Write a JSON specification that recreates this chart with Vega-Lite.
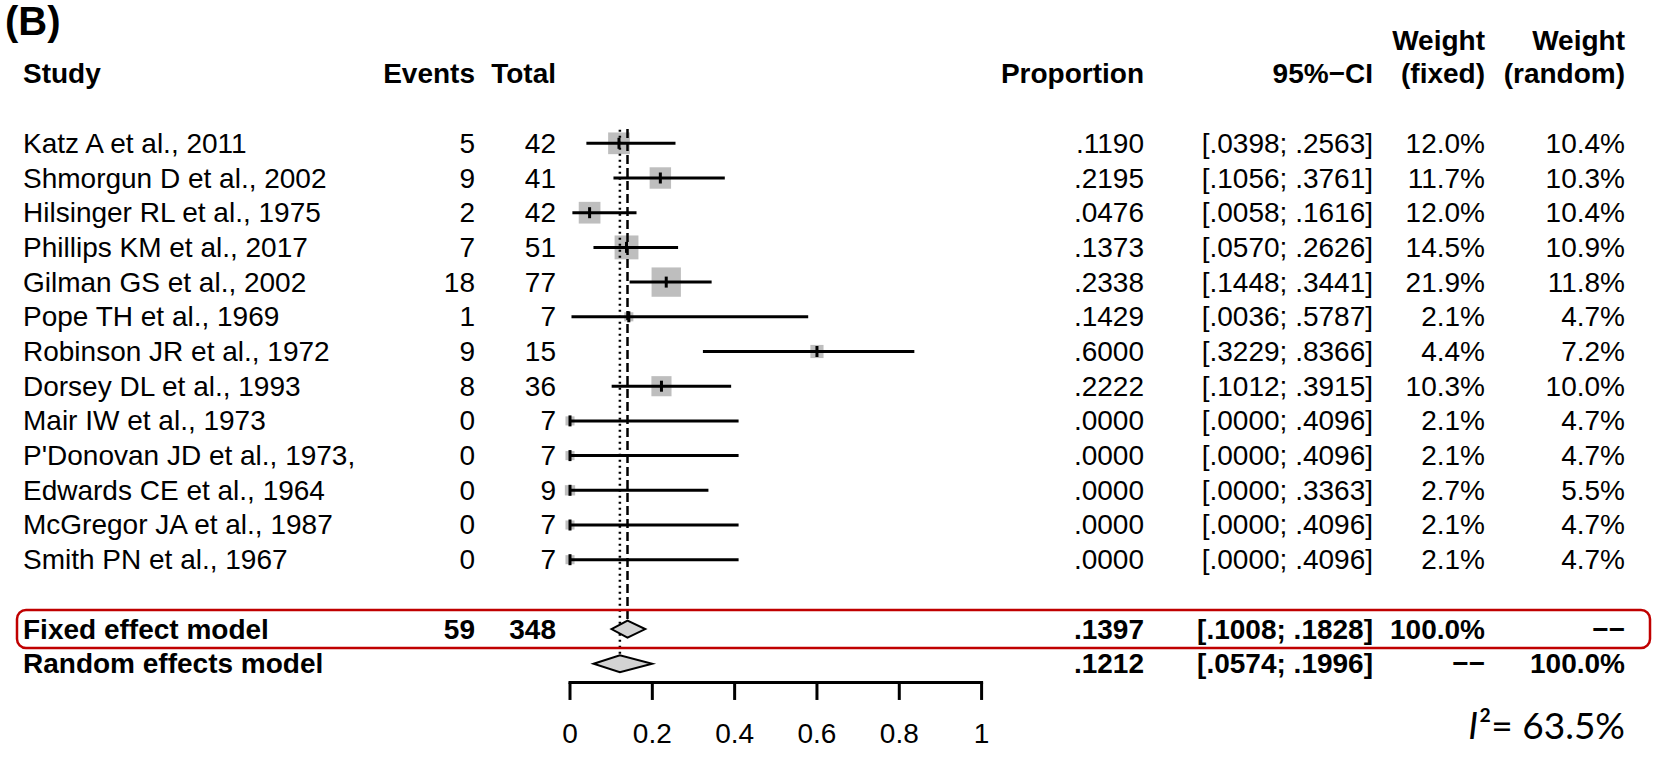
{
  "$schema": "https://vega.github.io/schema/vega-lite/v6.json",
  "width": 1664,
  "height": 767,
  "padding": 0,
  "autosize": {"type": "none"},
  "background": "white",
  "config": {
    "aria": false,
    "view": {"stroke": null},
    "text": {"font": "Liberation Sans", "fontSize": 28, "color": "black", "baseline": "middle", "dy": 1.5}
  },
  "datasets": {
    "rows": [
      {"study": "Katz A et al., 2011", "kind": "study", "row": 0, "events": 5, "total": 42, "prop": 0.119, "lo": 0.0398, "hi": 0.2563, "wf": 12.0, "wr": 10.4},
      {"study": "Shmorgun D et al., 2002", "kind": "study", "row": 1, "events": 9, "total": 41, "prop": 0.2195, "lo": 0.1056, "hi": 0.3761, "wf": 11.7, "wr": 10.3},
      {"study": "Hilsinger RL et al., 1975", "kind": "study", "row": 2, "events": 2, "total": 42, "prop": 0.0476, "lo": 0.0058, "hi": 0.1616, "wf": 12.0, "wr": 10.4},
      {"study": "Phillips KM et al., 2017", "kind": "study", "row": 3, "events": 7, "total": 51, "prop": 0.1373, "lo": 0.057, "hi": 0.2626, "wf": 14.5, "wr": 10.9},
      {"study": "Gilman GS et al., 2002", "kind": "study", "row": 4, "events": 18, "total": 77, "prop": 0.2338, "lo": 0.1448, "hi": 0.3441, "wf": 21.9, "wr": 11.8},
      {"study": "Pope TH et al., 1969", "kind": "study", "row": 5, "events": 1, "total": 7, "prop": 0.1429, "lo": 0.0036, "hi": 0.5787, "wf": 2.1, "wr": 4.7},
      {"study": "Robinson JR et al., 1972", "kind": "study", "row": 6, "events": 9, "total": 15, "prop": 0.6, "lo": 0.3229, "hi": 0.8366, "wf": 4.4, "wr": 7.2},
      {"study": "Dorsey DL et al., 1993", "kind": "study", "row": 7, "events": 8, "total": 36, "prop": 0.2222, "lo": 0.1012, "hi": 0.3915, "wf": 10.3, "wr": 10.0},
      {"study": "Mair IW et al., 1973", "kind": "study", "row": 8, "events": 0, "total": 7, "prop": 0, "lo": 0, "hi": 0.4096, "wf": 2.1, "wr": 4.7},
      {"study": "P'Donovan JD et al., 1973,", "kind": "study", "row": 9, "events": 0, "total": 7, "prop": 0, "lo": 0, "hi": 0.4096, "wf": 2.1, "wr": 4.7},
      {"study": "Edwards CE et al., 1964", "kind": "study", "row": 10, "events": 0, "total": 9, "prop": 0, "lo": 0, "hi": 0.3363, "wf": 2.7, "wr": 5.5},
      {"study": "McGregor JA et al., 1987", "kind": "study", "row": 11, "events": 0, "total": 7, "prop": 0, "lo": 0, "hi": 0.4096, "wf": 2.1, "wr": 4.7},
      {"study": "Smith PN et al., 1967", "kind": "study", "row": 12, "events": 0, "total": 7, "prop": 0, "lo": 0, "hi": 0.4096, "wf": 2.1, "wr": 4.7},
      {"study": "Fixed effect model", "kind": "model", "row": 14, "events": 59, "total": 348, "prop": 0.1397, "lo": 0.1008, "hi": 0.1828, "wf": 100.0, "wr": null},
      {"study": "Random effects model", "kind": "model", "row": 15, "events": null, "total": null, "prop": 0.1212, "lo": 0.0574, "hi": 0.1996, "wf": null, "wr": 100.0}
    ],
    "ticks": [{"tick": 0}, {"tick": 0.2}, {"tick": 0.4}, {"tick": 0.6}, {"tick": 0.8}, {"tick": 1}],
    "columns": [
      {"col": 1, "head": "Events", "head1": null},
      {"col": 2, "head": "Total", "head1": null},
      {"col": 3, "head": "Proportion", "head1": null},
      {"col": 4, "head": "95%−CI", "head1": null},
      {"col": 5, "head": "(fixed)", "head1": "Weight"},
      {"col": 6, "head": "(random)", "head1": "Weight"}
    ],
    "stats": [{"i2": 63.5}]
  },
  "resolve": {"scale": {"x": "independent"}},
  "layer": [
    {
      "layer": [
        {
          "data": {"name": "rows"},
          "transform": [{"filter": "datum.kind === 'study'"}],
          "mark": {"type": "square", "filled": true, "color": "#bebebe", "opacity": 1},
          "encoding": {
            "x": {"field": "prop", "type": "quantitative", "scale": {"domain": [-1.38484, 2.65792], "nice": false, "zero": false}, "axis": null},
            "y": {"field": "row", "type": "quantitative", "scale": {"domain": [-4.1297, 17.9741], "reverse": true, "nice": false, "zero": false}, "axis": null},
            "size": {"field": "wf", "type": "quantitative", "scale": {"type": "linear", "domain": [0, 100], "range": [0, 3930]}, "legend": null}
          }
        },
        {
          "data": {"name": "rows"},
          "transform": [{"filter": "datum.kind === 'study'"}],
          "mark": {"type": "rule", "strokeWidth": 3, "color": "black"},
          "encoding": {
            "x": {"field": "lo", "type": "quantitative", "scale": {"domain": [-1.38484, 2.65792], "nice": false, "zero": false}, "axis": null},
            "x2": {"field": "hi"},
            "y": {"field": "row", "type": "quantitative", "scale": {"domain": [-4.1297, 17.9741], "reverse": true, "nice": false, "zero": false}, "axis": null}
          }
        },
        {
          "data": {"name": "rows"},
          "transform": [{"filter": "datum.kind === 'study'"}],
          "mark": {"type": "tick", "orient": "vertical", "size": 11, "thickness": 3, "color": "black", "opacity": 1},
          "encoding": {
            "x": {"field": "prop", "type": "quantitative", "scale": {"domain": [-1.38484, 2.65792], "nice": false, "zero": false}, "axis": null},
            "y": {"field": "row", "type": "quantitative", "scale": {"domain": [-4.1297, 17.9741], "reverse": true, "nice": false, "zero": false}, "axis": null}
          }
        },
        {
          "data": {"name": "rows"},
          "transform": [{"filter": "datum.kind === 'model'"}],
          "mark": {"type": "rule", "strokeWidth": 2.5, "color": "black", "yOffset": -10},
          "encoding": {
            "x": {"field": "prop", "type": "quantitative", "scale": {"domain": [-1.38484, 2.65792], "nice": false, "zero": false}, "axis": null},
            "y": {"field": "row", "type": "quantitative", "scale": {"domain": [-4.1297, 17.9741], "reverse": true, "nice": false, "zero": false}, "axis": null},
            "y2": {"datum": -0.42},
            "strokeDash": {"field": "study", "type": "nominal", "scale": {"domain": ["Fixed effect model", "Random effects model"], "range": [[9, 4], [2, 4]]}, "legend": null}
          }
        },
        {
          "data": {"name": "rows"},
          "transform": [{"filter": "datum.kind === 'model'"}, {"fold": ["lo", "prop", "hi"], "as": ["key", "val"]}],
          "mark": {"type": "area", "orient": "vertical", "fill": "#d3d3d3", "stroke": "black", "strokeWidth": 2, "opacity": 1, "fillOpacity": 1,
                   "yOffset": {"expr": "datum.key === 'prop' ? -8.5 : 0"}, "y2Offset": {"expr": "datum.key === 'prop' ? 8.5 : 0"}},
          "encoding": {
            "x": {"field": "val", "type": "quantitative", "scale": {"domain": [-1.38484, 2.65792], "nice": false, "zero": false}, "axis": null},
            "y": {"field": "row", "type": "quantitative", "stack": null, "scale": {"domain": [-4.1297, 17.9741], "reverse": true, "nice": false, "zero": false}, "axis": null},
            "y2": {"field": "row"},
            "detail": {"field": "study", "type": "nominal"}
          }
        },
        {
          "data": {"name": "ticks"},
          "mark": {"type": "rule", "strokeWidth": 3, "color": "black", "strokeCap": "square"},
          "encoding": {
            "x": {"aggregate": "min", "field": "tick", "type": "quantitative", "scale": {"domain": [-1.38484, 2.65792], "nice": false, "zero": false}, "axis": null},
            "x2": {"aggregate": "max", "field": "tick"},
            "y": {"datum": 15.54, "type": "quantitative", "scale": {"domain": [-4.1297, 17.9741], "reverse": true, "nice": false, "zero": false}, "axis": null}
          }
        },
        {
          "data": {"name": "ticks"},
          "mark": {"type": "tick", "orient": "vertical", "size": 17.5, "thickness": 3, "color": "black", "opacity": 1},
          "encoding": {
            "x": {"field": "tick", "type": "quantitative", "scale": {"domain": [-1.38484, 2.65792], "nice": false, "zero": false}, "axis": null},
            "y": {"datum": 15.79, "type": "quantitative", "scale": {"domain": [-4.1297, 17.9741], "reverse": true, "nice": false, "zero": false}, "axis": null}
          }
        },
        {
          "data": {"name": "ticks"},
          "mark": {"type": "text", "fontSize": 28},
          "encoding": {
            "x": {"field": "tick", "type": "quantitative", "scale": {"domain": [-1.38484, 2.65792], "nice": false, "zero": false}, "axis": null},
            "y": {"datum": 17.02, "type": "quantitative", "scale": {"domain": [-4.1297, 17.9741], "reverse": true, "nice": false, "zero": false}, "axis": null},
            "text": {"field": "tick", "type": "quantitative", "format": "~g"}
          }
        }
      ]
    },
    {
      "layer": [
        {
          "data": {"name": "rows"},
          "transform": [{"filter": "datum.study === 'Fixed effect model'"}],
          "mark": {"type": "rect", "filled": false, "stroke": "#c00000", "strokeWidth": 2.5, "cornerRadius": 9, "yOffset": -19, "y2Offset": 19},
          "encoding": {
            "x": {"datum": -1, "type": "quantitative", "scale": {"type": "linear", "domain": [-2, -1, 0, 1, 2, 3, 4, 5, 6, 7], "range": [5, 17, 23, 475, 556, 1144, 1373, 1485, 1625, 1650], "nice": false, "zero": false}, "axis": null},
            "x2": {"datum": 7},
            "y": {"field": "row", "type": "quantitative", "scale": {"domain": [-4.1297, 17.9741], "reverse": true, "nice": false, "zero": false}, "axis": null},
            "y2": {"field": "row"}
          }
        },
        {
          "data": {"values": [{}]},
          "mark": {"type": "text", "text": "(B)", "align": "left", "fontWeight": "bold", "fontSize": 40},
          "encoding": {
            "x": {"datum": -2, "type": "quantitative", "scale": {"type": "linear", "domain": [-2, -1, 0, 1, 2, 3, 4, 5, 6, 7], "range": [5, 17, 23, 475, 556, 1144, 1373, 1485, 1625, 1650], "nice": false, "zero": false}, "axis": null},
            "y": {"datum": -3.5, "type": "quantitative", "scale": {"domain": [-4.1297, 17.9741], "reverse": true, "nice": false, "zero": false}, "axis": null}
          }
        },
        {
          "data": {"values": [{}]},
          "mark": {"type": "text", "text": "Study", "align": "left", "fontWeight": "bold"},
          "encoding": {
            "x": {"datum": 0, "type": "quantitative", "scale": {"type": "linear", "domain": [-2, -1, 0, 1, 2, 3, 4, 5, 6, 7], "range": [5, 17, 23, 475, 556, 1144, 1373, 1485, 1625, 1650], "nice": false, "zero": false}, "axis": null},
            "y": {"datum": -2, "type": "quantitative", "scale": {"domain": [-4.1297, 17.9741], "reverse": true, "nice": false, "zero": false}, "axis": null}
          }
        },
        {
          "data": {"name": "columns"},
          "mark": {"type": "text", "align": "right", "fontWeight": "bold"},
          "encoding": {
            "x": {"field": "col", "type": "quantitative", "scale": {"type": "linear", "domain": [-2, -1, 0, 1, 2, 3, 4, 5, 6, 7], "range": [5, 17, 23, 475, 556, 1144, 1373, 1485, 1625, 1650], "nice": false, "zero": false}, "axis": null},
            "y": {"datum": -2, "type": "quantitative", "scale": {"domain": [-4.1297, 17.9741], "reverse": true, "nice": false, "zero": false}, "axis": null},
            "text": {"field": "head", "type": "nominal"}
          }
        },
        {
          "data": {"name": "columns"},
          "transform": [{"filter": "datum.head1 != null"}],
          "mark": {"type": "text", "align": "right", "fontWeight": "bold"},
          "encoding": {
            "x": {"field": "col", "type": "quantitative", "scale": {"type": "linear", "domain": [-2, -1, 0, 1, 2, 3, 4, 5, 6, 7], "range": [5, 17, 23, 475, 556, 1144, 1373, 1485, 1625, 1650], "nice": false, "zero": false}, "axis": null},
            "y": {"datum": -2.97, "type": "quantitative", "scale": {"domain": [-4.1297, 17.9741], "reverse": true, "nice": false, "zero": false}, "axis": null},
            "text": {"field": "head1", "type": "nominal"}
          }
        },
        {
          "data": {"name": "rows"},
          "mark": {"type": "text", "align": "left", "fontWeight": {"expr": "datum.kind === 'model' ? 'bold' : 'normal'"}},
          "encoding": {
            "x": {"datum": 0, "type": "quantitative", "scale": {"type": "linear", "domain": [-2, -1, 0, 1, 2, 3, 4, 5, 6, 7], "range": [5, 17, 23, 475, 556, 1144, 1373, 1485, 1625, 1650], "nice": false, "zero": false}, "axis": null},
            "y": {"field": "row", "type": "quantitative", "scale": {"domain": [-4.1297, 17.9741], "reverse": true, "nice": false, "zero": false}, "axis": null},
            "text": {"field": "study", "type": "nominal"}
          }
        },
        {
          "data": {"name": "rows"},
          "mark": {"type": "text", "align": "right", "fontWeight": {"expr": "datum.kind === 'model' ? 'bold' : 'normal'"}, "text": {"expr": "datum.events == null ? '' : '' + datum.events"}},
          "encoding": {
            "x": {"datum": 1, "type": "quantitative", "scale": {"type": "linear", "domain": [-2, -1, 0, 1, 2, 3, 4, 5, 6, 7], "range": [5, 17, 23, 475, 556, 1144, 1373, 1485, 1625, 1650], "nice": false, "zero": false}, "axis": null},
            "y": {"field": "row", "type": "quantitative", "scale": {"domain": [-4.1297, 17.9741], "reverse": true, "nice": false, "zero": false}, "axis": null}
          }
        },
        {
          "data": {"name": "rows"},
          "mark": {"type": "text", "align": "right", "fontWeight": {"expr": "datum.kind === 'model' ? 'bold' : 'normal'"}, "text": {"expr": "datum.total == null ? '' : '' + datum.total"}},
          "encoding": {
            "x": {"datum": 2, "type": "quantitative", "scale": {"type": "linear", "domain": [-2, -1, 0, 1, 2, 3, 4, 5, 6, 7], "range": [5, 17, 23, 475, 556, 1144, 1373, 1485, 1625, 1650], "nice": false, "zero": false}, "axis": null},
            "y": {"field": "row", "type": "quantitative", "scale": {"domain": [-4.1297, 17.9741], "reverse": true, "nice": false, "zero": false}, "axis": null}
          }
        },
        {
          "data": {"name": "rows"},
          "mark": {"type": "text", "align": "right", "fontWeight": {"expr": "datum.kind === 'model' ? 'bold' : 'normal'"}, "text": {"expr": "replace(format(datum.prop, '.4f'), '0.', '.')"}},
          "encoding": {
            "x": {"datum": 3, "type": "quantitative", "scale": {"type": "linear", "domain": [-2, -1, 0, 1, 2, 3, 4, 5, 6, 7], "range": [5, 17, 23, 475, 556, 1144, 1373, 1485, 1625, 1650], "nice": false, "zero": false}, "axis": null},
            "y": {"field": "row", "type": "quantitative", "scale": {"domain": [-4.1297, 17.9741], "reverse": true, "nice": false, "zero": false}, "axis": null}
          }
        },
        {
          "data": {"name": "rows"},
          "mark": {"type": "text", "align": "right", "fontWeight": {"expr": "datum.kind === 'model' ? 'bold' : 'normal'"}, "text": {"expr": "'[' + replace(format(datum.lo, '.4f'), '0.', '.') + ';  ' + replace(format(datum.hi, '.4f'), '0.', '.') + ']'"}},
          "encoding": {
            "x": {"datum": 4, "type": "quantitative", "scale": {"type": "linear", "domain": [-2, -1, 0, 1, 2, 3, 4, 5, 6, 7], "range": [5, 17, 23, 475, 556, 1144, 1373, 1485, 1625, 1650], "nice": false, "zero": false}, "axis": null},
            "y": {"field": "row", "type": "quantitative", "scale": {"domain": [-4.1297, 17.9741], "reverse": true, "nice": false, "zero": false}, "axis": null}
          }
        },
        {
          "data": {"name": "rows"},
          "mark": {"type": "text", "align": "right", "fontWeight": {"expr": "datum.kind === 'model' ? 'bold' : 'normal'"}, "text": {"expr": "datum.wf == null ? '−−' : format(datum.wf, '.1f') + '%'"}},
          "encoding": {
            "x": {"datum": 5, "type": "quantitative", "scale": {"type": "linear", "domain": [-2, -1, 0, 1, 2, 3, 4, 5, 6, 7], "range": [5, 17, 23, 475, 556, 1144, 1373, 1485, 1625, 1650], "nice": false, "zero": false}, "axis": null},
            "y": {"field": "row", "type": "quantitative", "scale": {"domain": [-4.1297, 17.9741], "reverse": true, "nice": false, "zero": false}, "axis": null}
          }
        },
        {
          "data": {"name": "rows"},
          "mark": {"type": "text", "align": "right", "fontWeight": {"expr": "datum.kind === 'model' ? 'bold' : 'normal'"}, "text": {"expr": "datum.wr == null ? '−−' : format(datum.wr, '.1f') + '%'"}},
          "encoding": {
            "x": {"datum": 6, "type": "quantitative", "scale": {"type": "linear", "domain": [-2, -1, 0, 1, 2, 3, 4, 5, 6, 7], "range": [5, 17, 23, 475, 556, 1144, 1373, 1485, 1625, 1650], "nice": false, "zero": false}, "axis": null},
            "y": {"field": "row", "type": "quantitative", "scale": {"domain": [-4.1297, 17.9741], "reverse": true, "nice": false, "zero": false}, "axis": null}
          }
        },
        {
          "data": {"name": "stats"},
          "mark": {"type": "text", "align": "right", "font": "Lato", "fontSize": 37, "text": {"expr": "'²= ' + format(datum.i2, '.1f') + '%'"}},
          "encoding": {
            "x": {"datum": 6, "type": "quantitative", "scale": {"type": "linear", "domain": [-2, -1, 0, 1, 2, 3, 4, 5, 6, 7], "range": [5, 17, 23, 475, 556, 1144, 1373, 1485, 1625, 1650], "nice": false, "zero": false}, "axis": null},
            "y": {"datum": 16.8, "type": "quantitative", "scale": {"domain": [-4.1297, 17.9741], "reverse": true, "nice": false, "zero": false}, "axis": null}
          }
        },
        {
          "data": {"name": "stats"},
          "mark": {"type": "text", "align": "right", "font": "Lato", "fontSize": 37, "fontStyle": "italic", "text": "I", "dx": -147},
          "encoding": {
            "x": {"datum": 6, "type": "quantitative", "scale": {"type": "linear", "domain": [-2, -1, 0, 1, 2, 3, 4, 5, 6, 7], "range": [5, 17, 23, 475, 556, 1144, 1373, 1485, 1625, 1650], "nice": false, "zero": false}, "axis": null},
            "y": {"datum": 16.8, "type": "quantitative", "scale": {"domain": [-4.1297, 17.9741], "reverse": true, "nice": false, "zero": false}, "axis": null}
          }
        }
      ]
    }
  ]
}
